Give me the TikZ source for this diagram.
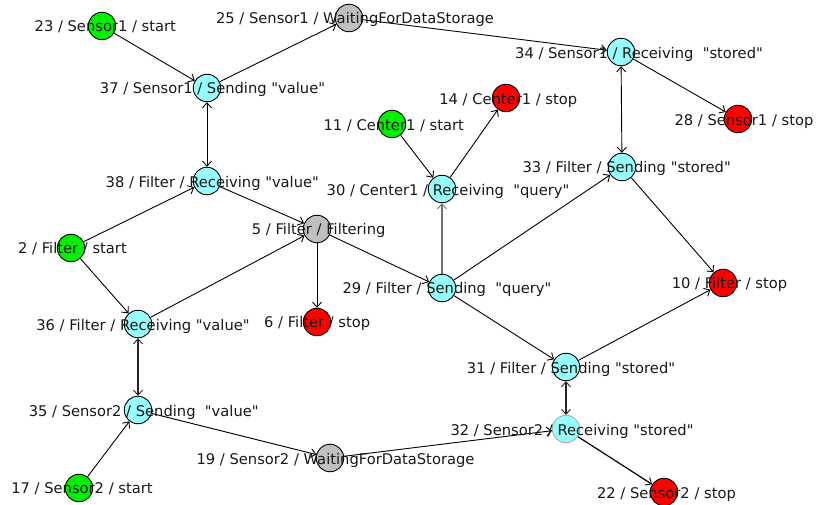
\documentclass[tikz,border=0pt]{standalone}
\usepackage{fontspec}
\setmainfont{DejaVu Sans}[Ligatures=TeXOff]
\usetikzlibrary{arrows.meta,backgrounds}

\definecolor{stgreen}{RGB}{0,240,0}
\definecolor{stcyan}{RGB}{150,252,252}
\definecolor{stred}{RGB}{255,0,0}
\definecolor{stgray}{RGB}{192,192,192}
\definecolor{txt}{RGB}{25,25,25}

\tikzset{
  state/.style={circle, draw=black, line width=0.9pt, minimum size=27.5pt, inner sep=0pt},
  startst/.style={state, fill=stgreen},
  stopst/.style={state, fill=stred},
  waitst/.style={state, fill=stgray},
  commst/.style={state, fill=stcyan},
  lbl/.style={anchor=base, inner sep=0pt, text=txt, font=\fontsize{14.7}{17}\selectfont},
  tip/.style={-{Straight Barb[length=5pt,width=9pt,line width=0.9pt]}},
  edge/.style={tip, draw=black, line width=0.9pt},
  both/.style={{Straight Barb[length=5pt,width=9pt,line width=0.9pt]}-{Straight Barb[length=5pt,width=9pt,line width=0.9pt]}, draw=black, line width=0.9pt},
  heavyboth/.style={both, line width=1.5pt, draw=black!85},
  grayedge/.style={edge, draw=black!55, line width=1.6pt}
}

\begin{document}
\begin{tikzpicture}[x=1pt, y=-1pt]
\useasboundingbox (0,0) rectangle (817,505);

% states
\node[startst] (n23) at (102,26) {};
\node[waitst]  (n25) at (349,18) {};
\node[commst]  (n37) at (207,88) {};
\node[commst]  (n34) at (621,52) {};
\node[stopst]  (n14) at (506,98) {};
\node[stopst]  (n28) at (738,119) {};
\node[startst] (n11) at (392,124) {};
\node[commst]  (n38) at (207,181) {};
\node[commst]  (n30) at (442,189) {};
\node[waitst]  (n5)  at (317,229) {};
\node[startst] (n2)  at (71,248) {};
\node[commst]  (n33) at (622,167) {};
\node[commst]  (n29) at (442,288) {};
\node[stopst]  (n10) at (723,283) {};
\node[commst]  (n36) at (138,324) {};
\node[stopst]  (n6)  at (317,322) {};
\node[commst]  (n35) at (138,410) {};
\node[waitst]  (n19) at (330,458) {};
\node[startst] (n17) at (79,488) {};
\node[commst]  (n31) at (566,367) {};
\node[commst, draw=black!40, line width=0.6pt] (n32) at (566,429) {};
\node[stopst]  (n22) at (664,492) {};

% transitions, kept underneath the states
\begin{pgfonlayer}{background}
\fill[white] (0,0) rectangle (817,505);
\draw[edge] (n23) -- (n37);
\draw[edge] (n37) -- (n25);
\draw[edge] (n25) -- (n34);
\draw[edge] (n34) -- (n28);
\draw[both] (n37) -- (n38);
\draw[both] (n34) -- (n33);
\draw[edge] (n11) -- (n30);
\draw[edge] (n30) -- (n14);
\draw[edge] (n2) -- (n38);
\draw[edge] (n38) -- (n5);
\draw[edge] (n2) -- (n36);
\draw[edge] (n36) -- (n5);
\draw[edge] (n5) -- (n6);
\draw[edge] (n5) -- (n29);
\draw[grayedge] (n29) -- (n30);
\draw[edge] (n29) -- (n33);
\draw[edge] (n33) -- (n10);
\draw[edge] (n29) -- (n31);
\draw[edge] (n31) -- (n10);
\draw[heavyboth] (n31) -- (n32);
\draw[heavyboth] (n36) -- (n35);
\draw[edge] (n17) -- (n35);
\draw[edge] (n35) -- (n19);
\draw[edge] (n19) -- (n32);
\draw[edge, line width=1.2pt] (n32) -- (n22);
\end{pgfonlayer}

% labels
\node[lbl] (l23) at (105.3,31.4) {23 / Sensor1 / start};
\node[lbl] (l25) at (355,23.4) {25 / Sensor1 / WaitingForDataStorage};
\node[lbl] (l37) at (212.5,93.4) {37 / Sensor1 / Sending "value"};
\node[lbl] (l34) at (639,58.4) {34 / Sensor1 / Receiving\ \ "stored"};
\node[lbl] (l14) at (508.3,104.4) {14 / Center1 / stop};
\node[lbl] (l28) at (744,125.4) {28 / Sensor1 / stop};
\node[lbl] (l11) at (393.8,130.4) {11 / Center1 / start};
\node[lbl] (l38) at (212.3,187.4) {38 / Filter / Receiving "value"};
\node[lbl] (l30) at (448,195.4) {30 / Center1 / Receiving\ \ "query"};
\node[lbl] (l5)  at (318.7,234.4) {5 / Filter / Filtering};
\node[lbl] (l2)  at (72.5,253.4) {2 / Filter / start};
\node[lbl] (l33) at (626.7,172.4) {33 / Filter / Sending "stored"};
\node[lbl] (l29) at (447,293.4) {29 / Filter / Sending\ \ "query"};
\node[lbl] (l10) at (729.5,288.9) {10 / Filter / stop};
\node[lbl] (l36) at (143,330.4) {36 / Filter / Receiving "value"};
\node[lbl] (l6)  at (317.2,327.9) {6 / Filter / stop};
\node[lbl] (l35) at (143.7,416.1) {35 / Sensor2 / Sending\ \ "value"};
\node[lbl] (l19) at (335.5,464.7) {19 / Sensor2 / WaitingForDataStorage};
\node[lbl] (l17) at (82,493.7) {17 / Sensor2 / start};
\node[lbl] (l31) at (571,373.1) {31 / Filter / Sending "stored"};
\node[lbl] (l32) at (572,435.4) {32 / Sensor2 / Receiving "stored"};
\node[lbl] (l22) at (666.5,498.7) {22 / Sensor2 / stop};
\end{tikzpicture}
\end{document}
